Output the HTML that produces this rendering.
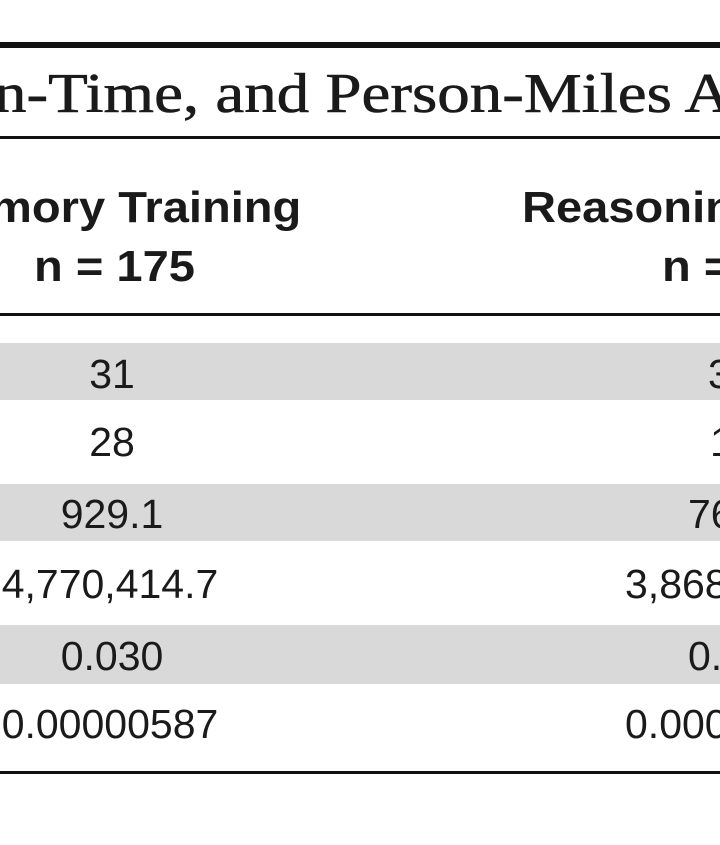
<!DOCTYPE html>
<html><head><style>
body{margin:0;width:720px;height:845px;background:#fff;position:relative;overflow:hidden;font-family:"Liberation Sans",sans-serif;color:#1a1a1a}
.l{position:absolute;left:0;width:720px;background:#111}
.g{position:absolute;left:0;width:720px;background:#d9d9d9}
.t{position:absolute;white-space:nowrap;line-height:1}
.c{position:absolute;white-space:nowrap;line-height:1;font-size:41px;transform:translateX(-50%)}
.r{position:absolute;white-space:nowrap;line-height:1;font-size:41px}
.b{font-weight:bold;font-size:44px;transform:scaleX(1.07);transform-origin:0 0}
</style></head><body>
<div class="l" style="top:42px;height:6px"></div>
<div class="t" style="left:-6px;top:66px;font-family:'Liberation Serif',serif;font-size:56px;transform:scaleX(1.16);transform-origin:0 0;-webkit-text-stroke:0.6px #1a1a1a">n-Time, and Person-Miles A</div>
<div class="l" style="top:136px;height:3px"></div>
<div class="t b" style="left:-10px;top:186px">mory Training</div>
<div class="t b" style="left:34px;top:245px">n = 175</div>
<div class="t b" style="left:522px;top:186px">Reasonin</div>
<div class="t b" style="left:662px;top:245px">n =</div>
<div class="l" style="top:313px;height:3px"></div>
<div class="g" style="top:343px;height:57px"></div>
<div class="g" style="top:484px;height:57px"></div>
<div class="g" style="top:625px;height:59px"></div>
<div class="c" style="left:112px;top:354px">31</div>
<div class="c" style="left:112px;top:422px">28</div>
<div class="c" style="left:112px;top:494px">929.1</div>
<div class="c" style="left:110px;top:564px">4,770,414.7</div>
<div class="c" style="left:112px;top:636px">0.030</div>
<div class="c" style="left:110px;top:704px">0.00000587</div>
<div class="r" style="left:708px;top:354px">3</div>
<div class="r" style="left:710px;top:422px">1</div>
<div class="r" style="left:688px;top:494px">76</div>
<div class="r" style="left:625px;top:564px">3,868</div>
<div class="r" style="left:688px;top:636px">0.</div>
<div class="r" style="left:625px;top:704px">0.000</div>
<div class="l" style="top:771px;height:3px"></div>
</body></html>
